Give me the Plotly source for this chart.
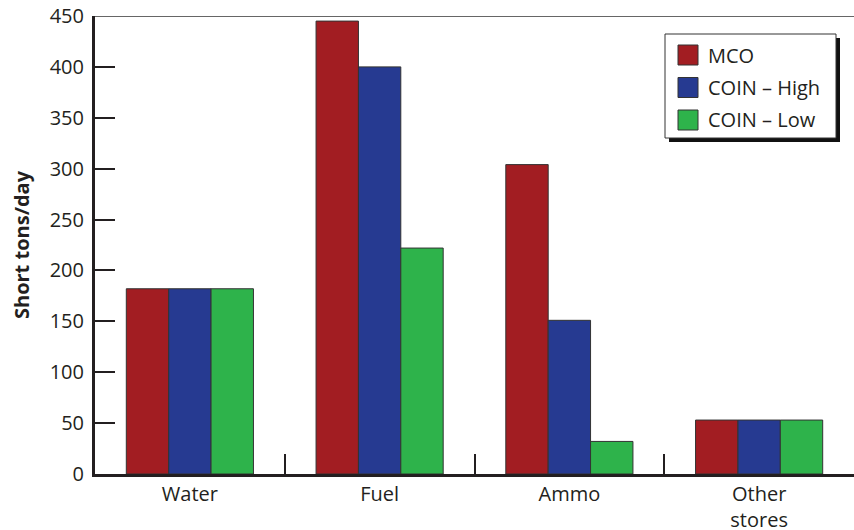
import plotly.graph_objects as go

# categories and series
categories = ["Water", "Fuel", "Ammo", "Other<br>stores"]
series_names = ["MCO", "COIN – High", "COIN – Low"]
mco = [182, 445, 304, 53]
coin_high = [182, 400, 151, 53]
coin_low = [182, 222, 32, 53]
colors = ["#A21D22", "#263A91", "#2EB34B"]

W, H = 854, 530
L, R, T, B = 95, 0, 16, 56
FONT = "Open Sans, Noto Sans, sans-serif"

def px_x(p):
    return (p - L) / (W - L - R)

def px_y(p):
    return (H - B - p) / (H - T - B)

fig = go.Figure()
for name, vals, col in zip(series_names, [mco, coin_high, coin_low], colors):
    fig.add_trace(go.Bar(
        x=categories, y=vals, name=name,
        marker=dict(color=col, line=dict(color="#333333", width=1)),
    ))

shapes = [
    # thin top line at 450
    dict(type="line", xref="paper", yref="y", x0=0, x1=1, y0=450, y1=450,
         line=dict(color="#333333", width=1.5)),
    # legend shadow + box
    dict(type="rect", xref="paper", yref="paper",
         x0=px_x(669), x1=px_x(840), y0=px_y(142), y1=px_y(38),
         fillcolor="#111111", line=dict(width=0)),
    dict(type="rect", xref="paper", yref="paper",
         x0=px_x(665), x1=px_x(836), y0=px_y(138), y1=px_y(34),
         fillcolor="white", line=dict(color="#333333", width=1)),
]
annotations = []
for i, (name, col) in enumerate(zip(series_names, colors)):
    cy = 55 + i * 32.5
    shapes.append(dict(type="rect", xref="paper", yref="paper",
                       x0=px_x(678), x1=px_x(698), y0=px_y(cy + 10), y1=px_y(cy - 10),
                       fillcolor=col, line=dict(color="#333333", width=1)))
    annotations.append(dict(xref="paper", yref="paper", x=px_x(706), y=px_y(cy),
                            text=name, showarrow=False, xanchor="left", yanchor="middle",
                            font=dict(family=FONT, size=20, color="#231F20")))

fig.update_layout(
    width=W, height=H,
    margin=dict(l=L, r=R, t=T, b=B),
    paper_bgcolor="white", plot_bgcolor="white",
    barmode="group", bargap=0.33, bargroupgap=0,
    showlegend=False,
    font=dict(family=FONT, size=20, color="#231F20"),
    shapes=shapes, annotations=annotations,
    xaxis=dict(
        range=[-0.5, 3.5], showline=True, linewidth=3, linecolor="#231F20",
        ticks="inside", tickson="boundaries", ticklen=20, tickwidth=2, tickcolor="#231F20",
        showgrid=False, tickfont=dict(size=20), automargin=False, ticklabelstandoff=0,
    ),
    yaxis=dict(
        range=[0, 450], dtick=50, showline=True, linewidth=3, linecolor="#231F20",
        ticks="inside", ticklen=20, tickwidth=2, tickcolor="#231F20",
        showgrid=False, zeroline=False, tickfont=dict(size=20), automargin=False,
        ticklabelstandoff=4,
        title=dict(text="<b>Short tons/day</b>", font=dict(size=20), standoff=15),
    ),
)

# drop the default page margin so the figure sits at the window's top-left corner
fig.write_html("out.html", config={"displayModeBar": False},
               post_script="document.body.style.margin='0';")
